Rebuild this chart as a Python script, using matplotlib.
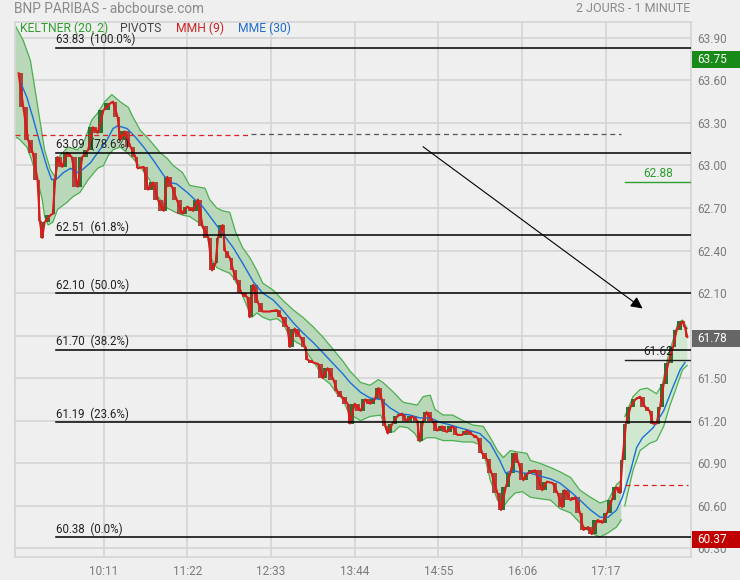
import numpy as np
import matplotlib.pyplot as plt
import matplotlib.transforms as mtransforms
from matplotlib.patches import Rectangle

plt.rcParams['font.family'] = ['Roboto', 'DejaVu Sans']

# time axis in minutes from chart start, ticks every 71 min
tick_pos = [75, 146, 217, 288, 359, 430, 501]
tick_labels = ["10:11", "11:22", "12:33", "13:44", "14:55", "16:06", "17:17"]
y_ticks = [63.90, 63.60, 63.30, 63.00, 62.70, 62.40, 62.10, 61.80, 61.50, 61.20, 60.90, 60.60, 60.30]

# MMH (9) / closes
close_t = [3, 7, 11, 15, 19, 21, 23, 25, 30, 32, 34, 36, 40, 44, 48, 53, 57, 62, 66, 70,
           75, 81, 83, 87, 89, 93, 98, 102, 104, 109, 113, 117, 121, 126, 129, 133, 137, 142, 146,
           151, 155, 159, 164, 167, 170, 172, 176, 178, 182, 185, 188, 192, 197, 199, 202, 206, 210,
           216, 222, 226, 231, 233, 237, 242, 246, 248, 253, 257, 261, 265, 270, 273, 277, 282, 284,
           288, 293, 297, 301, 305, 308, 311, 314, 316, 320, 324, 328, 332, 337, 341, 343, 346, 349,
           354, 358, 362, 366, 371, 375, 379, 383, 388, 392, 396, 400, 404, 409, 412, 416, 420, 424,
           427, 431, 435, 441, 447, 451, 456, 460, 464, 466, 471, 475, 479, 482, 486, 489, 494, 498,
           502, 506, 510, 513, 515, 518, 522, 526, 530, 534, 538, 541, 544, 547, 550, 554, 558, 561,
           566, 568, 570]
close_v = [63.65, 63.41, 63.18, 63.09, 62.90, 62.61, 62.49, 62.60, 62.65, 62.66, 62.90, 63.06, 62.99, 63.09, 63.06, 62.85, 63.06, 63.11, 63.27, 63.23,
           63.39, 63.44, 63.45, 63.34, 63.18, 63.24, 63.13, 63.06, 62.98, 62.99, 62.83, 62.88, 62.76, 62.68, 62.92, 62.85, 62.76, 62.66, 62.71,
           62.68, 62.76, 62.57, 62.49, 62.26, 62.31, 62.49, 62.58, 62.40, 62.35, 62.26, 62.19, 62.10, 62.07, 61.93, 62.16, 62.03, 61.97,
           61.97, 61.98, 61.93, 61.86, 61.72, 61.85, 61.79, 61.72, 61.63, 61.61, 61.60, 61.50, 61.57, 61.49, 61.41, 61.37, 61.32, 61.18,
           61.32, 61.27, 61.35, 61.32, 61.35, 61.43, 61.35, 61.16, 61.11, 61.18, 61.23, 61.25, 61.20, 61.23, 61.20, 61.06, 61.20, 61.26,
           61.20, 61.13, 61.16, 61.12, 61.16, 61.10, 61.10, 61.13, 61.10, 61.08, 60.97, 60.93, 60.83, 60.69, 60.57, 60.73, 60.83, 60.97,
           60.90, 60.78, 60.83, 60.85, 60.71, 60.77, 60.76, 60.69, 60.59, 60.71, 60.64, 60.66, 60.55, 60.43, 60.45, 60.40, 60.50, 60.48,
           60.55, 60.64, 60.73, 60.69, 60.92, 61.18, 61.30, 61.35, 61.37, 61.30, 61.27, 61.18, 61.18, 61.30, 61.46, 61.61, 61.72, 61.84,
           61.90, 61.86, 61.79]

# MME (30)
mme_t = [4, 10, 15, 21, 27, 31, 36, 41, 47, 53, 57, 64, 70, 78, 83, 87, 95, 102, 109, 117, 126, 131, 137,
         146, 151, 159, 168, 176, 185, 193, 202, 210, 219, 227, 236, 244, 253, 261, 270, 278, 284, 293,
         301, 310, 318, 326, 335, 343, 352, 360, 369, 377, 386, 394, 403, 411, 416, 422, 431, 437, 445,
         454, 462, 471, 479, 488, 496, 503, 510, 515, 522, 527, 532, 541, 550, 558, 564, 568]
mme_v = [63.60, 63.48, 63.34, 63.16, 62.99, 62.90, 62.91, 62.95, 62.98, 62.95, 62.97, 63.02, 63.09, 63.18, 63.26, 63.28, 63.26, 63.20, 63.13, 63.04, 62.93, 62.88, 62.87,
         62.81, 62.77, 62.71, 62.61, 62.52, 62.42, 62.31, 62.18, 62.10, 62.05, 61.98, 61.89, 61.82, 61.75, 61.68, 61.60, 61.53, 61.47, 61.40,
         61.36, 61.35, 61.29, 61.25, 61.24, 61.22, 61.22, 61.19, 61.17, 61.15, 61.13, 61.11, 61.04, 60.92, 60.83, 60.85, 60.83, 60.83, 60.81,
         60.79, 60.76, 60.70, 60.64, 60.57, 60.52, 60.52, 60.57, 60.66, 60.85, 61.01, 61.08, 61.15, 61.27, 61.44, 61.56, 61.61]

# Keltner (20, 2), day 1
up1_t = [0, 7, 13, 17, 21, 25, 30, 34, 38, 45, 53, 59, 65, 70, 76, 82, 89, 96, 100, 106, 114, 123, 129, 134,
         142, 148, 154, 161, 165, 171, 176, 182, 187, 193, 199, 205, 210, 219, 227, 236, 244, 253, 261, 270,
         278, 284, 293, 301, 308, 312, 321, 329, 341, 346, 352, 356, 363, 371, 380, 388, 397, 403, 409, 414,
         420, 426, 434, 437, 445, 454, 462, 471, 479, 488, 496, 503, 510, 514]
up1_v = [63.99, 63.88, 63.74, 63.53, 63.32, 63.11, 62.97, 62.92, 63.07, 63.13, 63.11, 63.18, 63.32, 63.37, 63.45, 63.50, 63.45, 63.41, 63.34, 63.25, 63.18, 63.09, 63.05, 63.00,
         62.95, 62.86, 62.85, 62.84, 62.76, 62.70, 62.68, 62.67, 62.53, 62.42, 62.35, 62.26, 62.17, 62.12, 62.05, 61.98, 61.93, 61.86, 61.79, 61.70,
         61.62, 61.55, 61.47, 61.45, 61.49, 61.47, 61.40, 61.33, 61.31, 61.37, 61.38, 61.28, 61.24, 61.24, 61.20, 61.17, 61.16, 61.08, 60.99, 60.94,
         60.99, 60.98, 60.97, 60.92, 60.90, 60.87, 60.84, 60.80, 60.71, 60.66, 60.62, 60.64, 60.75, 60.78]
lo1_t = [0, 3, 10, 14, 19, 23, 25, 28, 32, 36, 44, 49, 55, 62, 70, 75, 79, 83, 89, 95, 100, 108, 114, 121,
         129, 136, 142, 148, 157, 163, 167, 171, 176, 182, 185, 191, 197, 201, 205, 210, 216, 222, 227, 233,
         239, 244, 250, 256, 261, 267, 273, 278, 282, 287, 293, 301, 310, 315, 321, 326, 333, 339, 343, 349,
         356, 363, 371, 380, 388, 394, 399, 403, 409, 414, 418, 424, 430, 437, 445, 454, 462, 471, 479, 488,
         496, 503, 510, 514]
lo1_v = [63.20, 63.19, 63.13, 63.04, 62.90, 62.76, 62.64, 62.58, 62.60, 62.69, 62.74, 62.78, 62.81, 62.90, 62.98, 63.00, 63.07, 63.11, 63.13, 63.09, 63.05, 62.97, 62.90, 62.78,
         62.70, 62.67, 62.65, 62.64, 62.59, 62.50, 62.33, 62.28, 62.26, 62.24, 62.21, 62.12, 62.00, 61.93, 61.96, 61.93, 61.91, 61.92, 61.89, 61.79,
         61.75, 61.73, 61.65, 61.58, 61.50, 61.46, 61.39, 61.35, 61.27, 61.23, 61.20, 61.23, 61.24, 61.13, 61.12, 61.16, 61.15, 61.11, 61.05, 61.08,
         61.08, 61.06, 61.06, 61.05, 61.05, 61.03, 60.92, 60.78, 60.64, 60.59, 60.64, 60.69, 60.70, 60.66, 60.65, 60.64, 60.58, 60.55, 60.48, 60.41,
         60.38, 60.41, 60.45, 60.50]

# Keltner, day 2
up2_t = [517, 524, 530, 536, 544, 549, 553, 558, 562, 566, 570]
up2_v = [61.23, 61.37, 61.42, 61.43, 61.39, 61.46, 61.63, 61.77, 61.89, 61.91, 61.85]
lo2_t = [517, 524, 530, 538, 544, 550, 555, 561, 566, 570]
lo2_v = [60.60, 60.85, 60.99, 61.04, 61.06, 61.16, 61.30, 61.44, 61.56, 61.59]

# Fibonacci retracements
fib_vals = [63.83, 63.09, 62.51, 62.10, 61.70, 61.19, 60.38]
fib_pct = ["100.0%", "78.6%", "61.8%", "50.0%", "38.2%", "23.6%", "0.0%"]

bg = '#efefef'
fig = plt.figure(figsize=(7.4, 5.8), dpi=100, facecolor=bg)
ax = fig.add_axes([15.1 / 740, 1 - 556.7 / 580, 676.3 / 740, 535.0 / 580])
ax.set_facecolor(bg)
ax.set_xlim(0, 573.5)
ax.set_ylim(60.241, 64.014)

# grid
for yv in y_ticks:
    ax.axhline(yv, color='#d6d6d6', lw=1.3, zorder=0)
for xv in tick_pos:
    ax.axvline(xv, color='#d6d6d6', lw=1.3, zorder=0)
for s in ax.spines.values():
    s.set_color('#d6d6d6')
    s.set_linewidth(1.3)

# keltner bands
ax.fill(up1_t + lo1_t[::-1], up1_v + lo1_v[::-1], fc='#b9d7b9', ec='none', zorder=1)
ax.plot(up1_t, up1_v, color='#4caf50', lw=0.9, zorder=2)
ax.plot(lo1_t, lo1_v, color='#4caf50', lw=0.9, zorder=2)
ax.fill(up2_t + lo2_t[::-1], up2_v + lo2_v[::-1], fc='#cfe8cf', ec='none', zorder=1)
ax.plot(up2_t, up2_v, color='#4caf50', lw=0.9, zorder=2)
ax.plot(lo2_t, lo2_v, color='#4caf50', lw=0.9, zorder=2)

# candles: open = previous close
ct = np.array(close_t, dtype=float)
cv = np.array(close_v)
mids = (ct[1:] + ct[:-1]) / 2
widths = (ct[1:] - ct[:-1]) * 0.9
opens = cv[:-1]
closes = cv[1:]
cols = np.where(closes >= opens, '#2f6f34', '#a8473b')
ax.bar(mids, closes - opens, bottom=opens, width=widths, color=cols, zorder=3)

# MME and MMH lines
ax.plot(mme_t, mme_v, color='#1a6fd6', lw=1.0, zorder=4)
ax.plot(close_t, close_v, color='#dd1a1a', lw=1.5, zorder=5)

# fibonacci lines
for v, p in zip(fib_vals, fib_pct):
    ax.plot([35, 573.5], [v, v], color='black', lw=1.1, zorder=6)
    ax.text(35, v + 0.01, f"{v:.2f}  ({p})", fontsize=8.3, color='#222222', va='bottom', ha='left', zorder=7)

# pivots
ax.plot([0, 200], [63.215, 63.215], color='#dd2222', lw=0.9, ls=(0, (4, 3)), zorder=6)
ax.plot([200, 514], [63.22, 63.22], color='#555555', lw=0.9, ls=(0, (4, 3)), zorder=6)
ax.plot([517, 571], [60.75, 60.75], color='#dd2222', lw=0.9, ls=(0, (4, 3)), zorder=6)

# day-2 levels
ax.plot([517, 573.5], [62.881, 62.881], color='#2e9e2e', lw=1.0, zorder=6)
ax.text(545, 62.895, "62.88", color='#2e9e2e', fontsize=8.6, ha='center', va='bottom')
ax.plot([517, 573.5], [61.626, 61.626], color='#222222', lw=1.0, zorder=6)
ax.text(545, 61.64, "61.62", color='#222222', fontsize=8.6, ha='center', va='bottom', zorder=7)

# trend arrow
ax.annotate("", xy=(534, 61.98), xytext=(344, 63.144),
            arrowprops=dict(arrowstyle='-|>,head_length=0.7,head_width=0.35', color='black', lw=0.8), zorder=8)

# axes ticks
ax.set_xticks(tick_pos)
ax.set_xticklabels(tick_labels)
ax.yaxis.tick_right()
ax.set_yticks(y_ticks)
ax.set_yticklabels([f"{v:.2f}" for v in y_ticks])
ax.tick_params(axis='both', length=0, labelsize=8.5, labelcolor='#7a7a7a')
ax.tick_params(axis='x', pad=6)
ax.tick_params(axis='y', pad=4)

# price boxes on right
trans = mtransforms.blended_transform_factory(ax.transAxes, ax.transData)
for v, lab, fc in [(63.75, "63.75", '#178a17'), (61.78, "61.78", '#666666'), (60.36, "60.37", '#c00000')]:
    ax.add_patch(Rectangle((1.0012, v - 0.06), 0.072, 0.12, transform=trans, fc=fc, ec='none',
                           clip_on=False, zorder=10))
    ax.text(1.009, v, lab, transform=trans, color='white',
            fontsize=8.5, va='center', ha='left', zorder=11, clip_on=False)

# header texts
fig.text(14 / 740, 1 - 9 / 580, "BNP PARIBAS - abcbourse.com", fontsize=9.8, color='#8a8a8a', va='center')
fig.text(690 / 740, 1 - 9 / 580, "2 JOURS - 1 MINUTE", fontsize=9, color='#8a8a8a', va='center', ha='right')
leg_y = 1 - 28 / 580
fig.text(20 / 740, leg_y, "KELTNER (20, 2)", fontsize=8.7, color='#2e9e2e', va='center')
fig.text(120 / 740, leg_y, "PIVOTS", fontsize=8.7, color='#444444', va='center')
fig.text(176 / 740, leg_y, "MMH (9)", fontsize=8.7, color='#cc2222', va='center')
fig.text(238 / 740, leg_y, "MME (30)", fontsize=8.7, color='#1f6fd0', va='center')

fig.savefig("out.png", dpi=100, facecolor=bg)
